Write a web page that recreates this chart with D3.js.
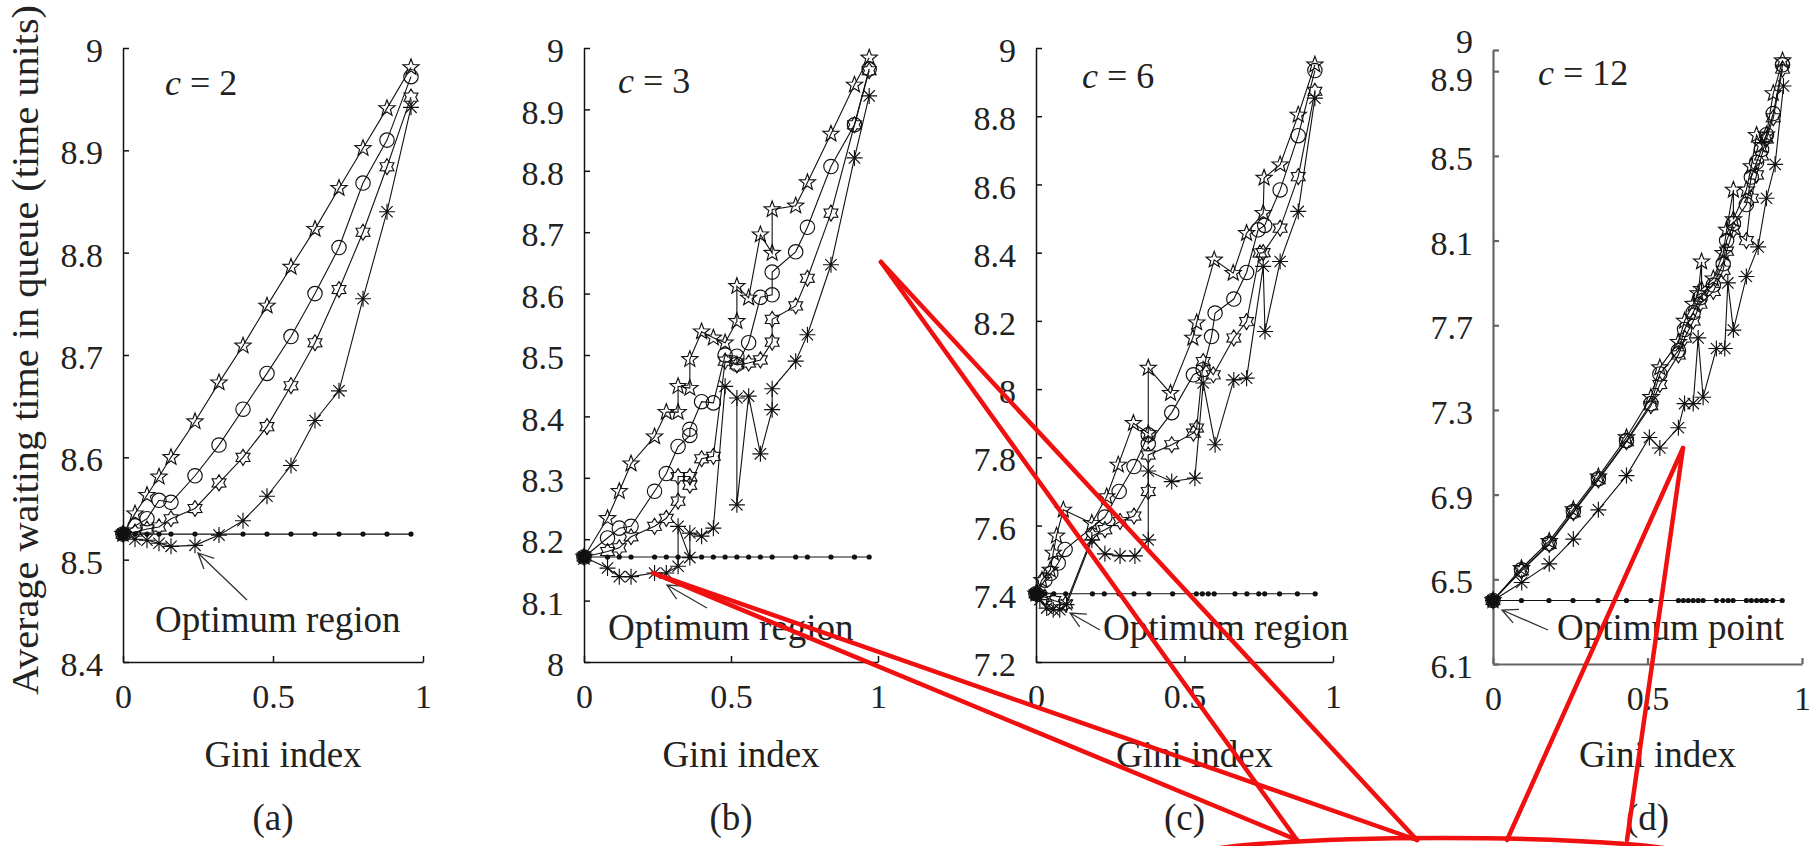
<!DOCTYPE html>
<html>
<head>
<meta charset="utf-8">
<script src="https://cdn.jsdelivr.net/npm/d3@7"></script>
<style>
  body { margin: 0; background: #fff; }
  svg { display: block; }
</style>
</head>
<body>
<svg id="chart" width="1817" height="846"></svg>
<script>
// ---- data: [gini index, average waiting time] ----
// (a) c = 2
var aDot = [[0,8.525],[0.04,8.525],[0.08,8.525],[0.12,8.525],[0.16,8.525],[0.24,8.525],[0.32,8.525],[0.40,8.525],[0.48,8.525],[0.56,8.525],[0.64,8.525],[0.72,8.525],[0.80,8.525],[0.88,8.525],[0.96,8.525]];
var aStar = [[0,8.525],[0.04,8.545],[0.08,8.563],[0.12,8.581],[0.16,8.600],[0.24,8.635],[0.32,8.673],[0.40,8.709],[0.48,8.748],[0.56,8.786],[0.64,8.823],[0.72,8.863],[0.80,8.902],[0.88,8.941],[0.96,8.981]];
var aCircle = [[0,8.525],[0.04,8.533],[0.08,8.540],[0.12,8.558],[0.16,8.556],[0.24,8.582],[0.32,8.612],[0.40,8.647],[0.48,8.682],[0.56,8.718],[0.64,8.760],[0.72,8.805],[0.80,8.868],[0.88,8.910],[0.96,8.972]];
var aHex = [[0,8.525],[0.04,8.527],[0.08,8.530],[0.12,8.532],[0.16,8.540],[0.24,8.550],[0.32,8.575],[0.40,8.600],[0.48,8.630],[0.56,8.670],[0.64,8.712],[0.72,8.764],[0.80,8.820],[0.88,8.884],[0.96,8.952]];
var aAst = [[0,8.525],[0.04,8.520],[0.08,8.519],[0.12,8.516],[0.16,8.513],[0.24,8.514],[0.32,8.524],[0.40,8.538],[0.48,8.562],[0.56,8.592],[0.64,8.636],[0.72,8.665],[0.80,8.755],[0.88,8.840],[0.96,8.942]];

// (b) c = 3
var bDot = [[0,8.171],[0.08,8.171],[0.12,8.171],[0.16,8.171],[0.24,8.171],[0.28,8.171],[0.32,8.171],[0.36,8.171],[0.40,8.171],[0.44,8.171],[0.48,8.171],[0.52,8.171],[0.56,8.171],[0.60,8.171],[0.64,8.171],[0.72,8.171],[0.76,8.171],[0.84,8.171],[0.92,8.171],[0.97,8.171]];
var bStar = [[0,8.171],[0.08,8.234],[0.12,8.278],[0.16,8.323],[0.24,8.367],[0.28,8.407],[0.32,8.407],[0.32,8.449],[0.36,8.446],[0.36,8.493],[0.40,8.538],[0.44,8.528],[0.48,8.520],[0.52,8.555],[0.52,8.612],[0.56,8.593],[0.60,8.696],[0.64,8.666],[0.64,8.737],[0.72,8.743],[0.76,8.781],[0.84,8.860],[0.92,8.940],[0.97,8.984]];
var bCircle = [[0,8.171],[0.08,8.202],[0.12,8.218],[0.16,8.221],[0.24,8.278],[0.28,8.307],[0.32,8.351],[0.36,8.369],[0.36,8.379],[0.40,8.424],[0.44,8.422],[0.48,8.500],[0.52,8.498],[0.52,8.485],[0.56,8.520],[0.60,8.594],[0.64,8.598],[0.64,8.635],[0.72,8.668],[0.76,8.708],[0.84,8.807],[0.92,8.875],[0.97,8.966]];
var bHex = [[0,8.171],[0.08,8.180],[0.12,8.186],[0.16,8.204],[0.24,8.221],[0.28,8.234],[0.32,8.262],[0.32,8.302],[0.36,8.302],[0.36,8.288],[0.40,8.331],[0.44,8.335],[0.48,8.490],[0.52,8.484],[0.56,8.487],[0.60,8.492],[0.64,8.521],[0.64,8.558],[0.72,8.580],[0.76,8.625],[0.84,8.731],[0.92,8.875],[0.97,8.963]];
var bAst = [[0,8.171],[0.08,8.153],[0.12,8.139],[0.16,8.139],[0.24,8.145],[0.28,8.145],[0.32,8.156],[0.32,8.221],[0.36,8.170],[0.36,8.210],[0.40,8.205],[0.44,8.218],[0.48,8.449],[0.52,8.430],[0.52,8.256],[0.56,8.433],[0.60,8.339],[0.64,8.411],[0.64,8.445],[0.72,8.490],[0.76,8.533],[0.84,8.647],[0.92,8.821],[0.97,8.922]];

// (c) c = 6
var cDot = [[0,7.40],[0.03,7.40],[0.06,7.40],[0.10,7.40],[0.19,7.40],[0.23,7.40],[0.28,7.40],[0.33,7.40],[0.38,7.40],[0.46,7.40],[0.54,7.40],[0.56,7.40],[0.58,7.40],[0.60,7.40],[0.67,7.40],[0.71,7.40],[0.75,7.40],[0.77,7.40],[0.82,7.40],[0.88,7.40],[0.94,7.40]];
var cStar = [[0,7.40],[0.02,7.44],[0.048,7.47],[0.058,7.52],[0.069,7.57],[0.092,7.646],[0.188,7.607],[0.238,7.685],[0.277,7.778],[0.328,7.90],[0.378,7.871],[0.378,8.062],[0.453,7.988],[0.528,8.15],[0.541,8.195],[0.60,8.379],[0.664,8.34],[0.709,8.457],[0.765,8.516],[0.768,8.619],[0.822,8.658],[0.883,8.804],[0.939,8.951]];
var cCircle = [[0,7.40],[0.03,7.44],[0.05,7.46],[0.075,7.49],[0.098,7.53],[0.232,7.625],[0.28,7.70],[0.33,7.773],[0.378,7.866],[0.378,7.84],[0.457,7.931],[0.53,8.042],[0.563,8.057],[0.591,8.154],[0.603,8.223],[0.666,8.264],[0.709,8.342],[0.748,8.467],[0.77,8.48],[0.822,8.584],[0.883,8.743],[0.939,8.934]];
var cHex = [[0,7.40],[0.03,7.39],[0.06,7.38],[0.10,7.37],[0.19,7.57],[0.232,7.588],[0.283,7.612],[0.33,7.628],[0.378,7.70],[0.378,7.807],[0.457,7.837],[0.53,7.871],[0.541,7.886],[0.563,8.081],[0.597,8.042],[0.666,8.15],[0.709,8.198],[0.754,8.399],[0.765,8.40],[0.822,8.472],[0.883,8.623],[0.939,8.873]];
var cAst = [[0,7.40],[0.013,7.383],[0.036,7.358],[0.058,7.353],[0.08,7.353],[0.103,7.368],[0.188,7.558],[0.232,7.517],[0.283,7.511],[0.333,7.511],[0.378,7.558],[0.378,7.76],[0.457,7.729],[0.535,7.739],[0.563,8.018],[0.603,7.837],[0.666,8.027],[0.709,8.032],[0.765,8.36],[0.771,8.169],[0.822,8.374],[0.883,8.521],[0.939,8.853]];

// (d) c = 12
var dDot = [[0,6.40],[0.092,6.40],[0.181,6.40],[0.259,6.40],[0.34,6.40],[0.432,6.40],[0.511,6.40],[0.60,6.40],[0.616,6.40],[0.632,6.40],[0.648,6.40],[0.664,6.40],[0.68,6.40],[0.723,6.40],[0.744,6.40],[0.761,6.40],[0.777,6.40],[0.82,6.40],[0.836,6.40],[0.853,6.40],[0.869,6.40],[0.885,6.40],[0.906,6.40],[0.936,6.40]];
var dStar = [[0,6.40],[0.092,6.552],[0.182,6.68],[0.26,6.83],[0.341,6.985],[0.432,7.17],[0.511,7.36],[0.54,7.50],[0.60,7.62],[0.62,7.72],[0.648,7.80],[0.664,7.85],[0.675,8.00],[0.675,7.87],[0.713,7.92],[0.745,8.04],[0.756,8.15],[0.778,8.339],[0.778,8.20],[0.82,8.34],[0.836,8.45],[0.853,8.598],[0.869,8.55],[0.885,8.60],[0.907,8.795],[0.937,8.95]];
var dCircle = [[0,6.40],[0.092,6.545],[0.182,6.67],[0.26,6.82],[0.341,6.975],[0.432,7.155],[0.511,7.33],[0.54,7.47],[0.60,7.58],[0.62,7.68],[0.648,7.76],[0.67,7.83],[0.713,7.89],[0.745,7.99],[0.756,8.10],[0.778,8.18],[0.82,8.27],[0.836,8.40],[0.853,8.47],[0.869,8.53],[0.885,8.60],[0.907,8.70],[0.937,8.93]];
var dHex = [[0,6.40],[0.092,6.54],[0.182,6.665],[0.26,6.815],[0.341,6.97],[0.432,7.15],[0.511,7.32],[0.54,7.42],[0.60,7.56],[0.62,7.64],[0.648,7.72],[0.67,7.80],[0.713,7.86],[0.745,7.96],[0.756,8.05],[0.778,8.15],[0.82,8.10],[0.836,8.30],[0.853,8.41],[0.869,8.50],[0.885,8.58],[0.907,8.68],[0.937,8.91]];
var dAst = [[0,6.40],[0.093,6.485],[0.182,6.573],[0.26,6.69],[0.341,6.828],[0.432,6.99],[0.506,7.17],[0.54,7.12],[0.60,7.216],[0.62,7.33],[0.648,7.33],[0.664,7.64],[0.68,7.36],[0.723,7.59],[0.75,7.59],[0.76,7.90],[0.778,7.677],[0.82,7.93],[0.858,8.07],[0.885,8.30],[0.913,8.46],[0.94,8.83]];

// tick values
var xTicks = [0, 0.5, 1];
var aTicks = [8.4, 8.5, 8.6, 8.7, 8.8, 8.9, 9];
var bTicks = [8, 8.1, 8.2, 8.3, 8.4, 8.5, 8.6, 8.7, 8.8, 8.9, 9];
var cTicks = [7.2, 7.4, 7.6, 7.8, 8, 8.2, 8.4, 8.6, 8.8, 9];
var dTicks = [6.1, 6.5, 6.9, 7.3, 7.7, 8.1, 8.5, 8.9, 9];

var serif = '"Liberation Serif", "Times New Roman", serif';
var svg = d3.select('#chart');
svg.append('rect').attr('width', 1817).attr('height', 846).attr('fill', '#fff');

// MATLAB-like open markers
function starPath(points, inner) {
  return { draw: function(ctx, size) {
    var r = Math.sqrt(size);
    for (var k = 0; k < points * 2; k++) {
      var a = -Math.PI / 2 + k * Math.PI / points;
      var rr = (k % 2) ? r * inner : r;
      if (k) ctx.lineTo(rr * Math.cos(a), rr * Math.sin(a));
      else ctx.moveTo(rr * Math.cos(a), rr * Math.sin(a));
    }
    ctx.closePath();
  }};
}
var pentagram = starPath(5, 0.42);
var hexagram = starPath(6, 0.6);
var ring = { draw: function(ctx, size) {
  var r = Math.sqrt(size);
  ctx.moveTo(r, 0); ctx.arc(0, 0, r, 0, 2 * Math.PI);
}};
var asterisk = { draw: function(ctx, size) {
  var r = Math.sqrt(size);
  for (var k = 0; k < 4; k++) {
    var a = k * Math.PI / 4;
    ctx.moveTo(r * Math.cos(a), r * Math.sin(a));
    ctx.lineTo(-r * Math.cos(a), -r * Math.sin(a));
  }
}};

var panels = [
  { tag: '(a)', c: '2', x0: 123, x1: 423, yTop: 48, yBot: 662, dom: [8.4, 9], ticks: aTicks,
    series: [aDot, aStar, aCircle, aHex, aAst], axisColor: '#111', axisW: 1.5,
    cPos: [165, 95], note: 'Optimum region', notePos: [155, 632], arrow: [[247, 600], [198, 553]] },
  { tag: '(b)', c: '3', x0: 584, x1: 878, yTop: 48, yBot: 662, dom: [8, 9], ticks: bTicks,
    series: [bDot, bStar, bCircle, bHex, bAst], axisColor: '#111', axisW: 1.5,
    cPos: [618, 93], note: 'Optimum region', notePos: [608, 640], arrow: [[707, 608], [667, 585]] },
  { tag: '(c)', c: '6', x0: 1036, x1: 1333, yTop: 48, yBot: 662, dom: [7.2, 9], ticks: cTicks,
    series: [cDot, cStar, cCircle, cHex, cAst], axisColor: '#111', axisW: 1.5,
    cPos: [1082, 88], note: 'Optimum region', notePos: [1103, 640], arrow: [[1100, 630], [1070, 613]] },
  { tag: '(d)', c: '12', x0: 1493, x1: 1802, yTop: 50, yBot: 664, dom: [6.1, 9], ticks: dTicks,
    series: [dDot, dStar, dCircle, dHex, dAst], axisColor: '#666', axisW: 2.2,
    cPos: [1538, 85], note: 'Optimum point', notePos: [1557, 640], arrow: [[1548, 630], [1502, 610]] }
];

var markerOf = [null, pentagram, ring, hexagram, asterisk];
var markerR = [0, 8.5, 7.2, 8, 8];

function drawPanel(p) {
  var x = d3.scaleLinear().domain([0, 1]).range([p.x0, p.x1]);
  var y = d3.scaleLinear().domain(p.dom).range([p.yBot, p.yTop]);
  var g = svg.append('g');
  var fmt = d3.format('~g');

  var ya = g.append('g').attr('transform', 'translate(' + p.x0 + ',0)')
    .call(d3.axisLeft(y).tickValues(p.ticks).tickFormat(fmt)
      .tickSizeInner(-6).tickSizeOuter(0).tickPadding(20));
  var xa = g.append('g').attr('transform', 'translate(0,' + p.yBot + ')')
    .call(d3.axisBottom(x).tickValues(xTicks).tickFormat(fmt)
      .tickSizeInner(-6).tickSizeOuter(0).tickPadding(22));
  [ya, xa].forEach(function(ax) {
    ax.attr('font-family', serif).attr('font-size', 34);
    ax.selectAll('path,line').attr('stroke', p.axisColor).attr('stroke-width', p.axisW);
    ax.selectAll('text').attr('fill', '#222');
  });
  // labels sit a little low; the crowded 9 / 8.9 pair in (d) is spread apart
  ya.selectAll('.tick text').attr('dy', function(d) {
    if (p.tag === '(d)' && d === 9) return '0.08em';
    if (p.tag === '(d)' && d === 8.9) return '0.56em';
    return '0.4em';
  });

  var line = d3.line().x(function(d) { return x(d[0]); }).y(function(d) { return y(d[1]); });

  p.series.forEach(function(s) {
    g.append('path').attr('d', line(s)).attr('fill', 'none')
      .attr('stroke', '#111').attr('stroke-width', 1.1);
  });

  // dots series
  g.selectAll(null).data(p.series[0]).enter().append('circle')
    .attr('cx', function(d) { return x(d[0]); })
    .attr('cy', function(d) { return y(d[1]); })
    .attr('r', function(d, i) { return i === 0 ? 6.5 : 2.6; })
    .attr('fill', '#111');

  for (var k = 1; k < 5; k++) {
    var sym = d3.symbol().type(markerOf[k]).size(markerR[k] * markerR[k]);
    g.selectAll(null).data(p.series[k]).enter().append('path')
      .attr('transform', function(d) { return 'translate(' + x(d[0]) + ',' + y(d[1]) + ')'; })
      .attr('d', sym)
      .attr('fill', 'none').attr('stroke', '#111').attr('stroke-width', 1.15);
  }

  // c = n label
  var ct = g.append('text').attr('x', p.cPos[0]).attr('y', p.cPos[1])
    .attr('font-family', serif).attr('font-size', 36).attr('fill', '#222');
  ct.append('tspan').attr('font-style', 'italic').text('c');
  ct.append('tspan').text(' = ' + p.c);

  // optimum note + arrow
  g.append('text').attr('x', p.notePos[0]).attr('y', p.notePos[1])
    .attr('font-family', serif).attr('font-size', 37).attr('fill', '#222').text(p.note);
  var t = p.arrow[0], h = p.arrow[1];
  var ang = Math.atan2(t[1] - h[1], t[0] - h[0]);
  var al = 17, spread = 0.45;
  var arrow = d3.path();
  arrow.moveTo(t[0], t[1]); arrow.lineTo(h[0], h[1]);
  arrow.moveTo(h[0] + al * Math.cos(ang - spread), h[1] + al * Math.sin(ang - spread));
  arrow.lineTo(h[0], h[1]);
  arrow.lineTo(h[0] + al * Math.cos(ang + spread), h[1] + al * Math.sin(ang + spread));
  g.append('path').attr('d', arrow.toString()).attr('fill', 'none')
    .attr('stroke', '#333').attr('stroke-width', 1.3);

  // x label and panel tag
  var mid = (p.x0 + p.x1) / 2;
  g.append('text').attr('x', mid + 10).attr('y', 767).attr('text-anchor', 'middle')
    .attr('font-family', serif).attr('font-size', 37).attr('fill', '#222').text('Gini index');
  g.append('text').attr('x', mid).attr('y', 830).attr('text-anchor', 'middle')
    .attr('font-family', serif).attr('font-size', 37).attr('fill', '#222').text(p.tag);
}

panels.forEach(drawPanel);

// shared y label
svg.append('text').attr('transform', 'translate(38,350) rotate(-90)')
  .attr('text-anchor', 'middle').attr('font-family', serif).attr('font-size', 37)
  .attr('textLength', 690).attr('lengthAdjust', 'spacingAndGlyphs').attr('fill', '#222')
  .text('Average waiting time in queue (time units)');

// red hand-drawn callout overlay (pixel annotation)
var callout = [
  [[653, 573], [1297, 840]], [[653, 573], [1417, 840]],
  [[881, 262], [1297, 840]], [[881, 262], [1417, 840]],
  [[1683, 448], [1507, 840]], [[1683, 448], [1627, 840]]
];
var red = svg.append('g').attr('stroke', '#f01010').attr('stroke-width', 4.5).attr('fill', 'none');
callout.forEach(function(seg) {
  red.append('path').attr('d', d3.line()(seg)).attr('stroke-linecap', 'round');
});
red.append('ellipse').attr('cx', 1442).attr('cy', 858).attr('rx', 256).attr('ry', 20);
</script>
</body>
</html>
